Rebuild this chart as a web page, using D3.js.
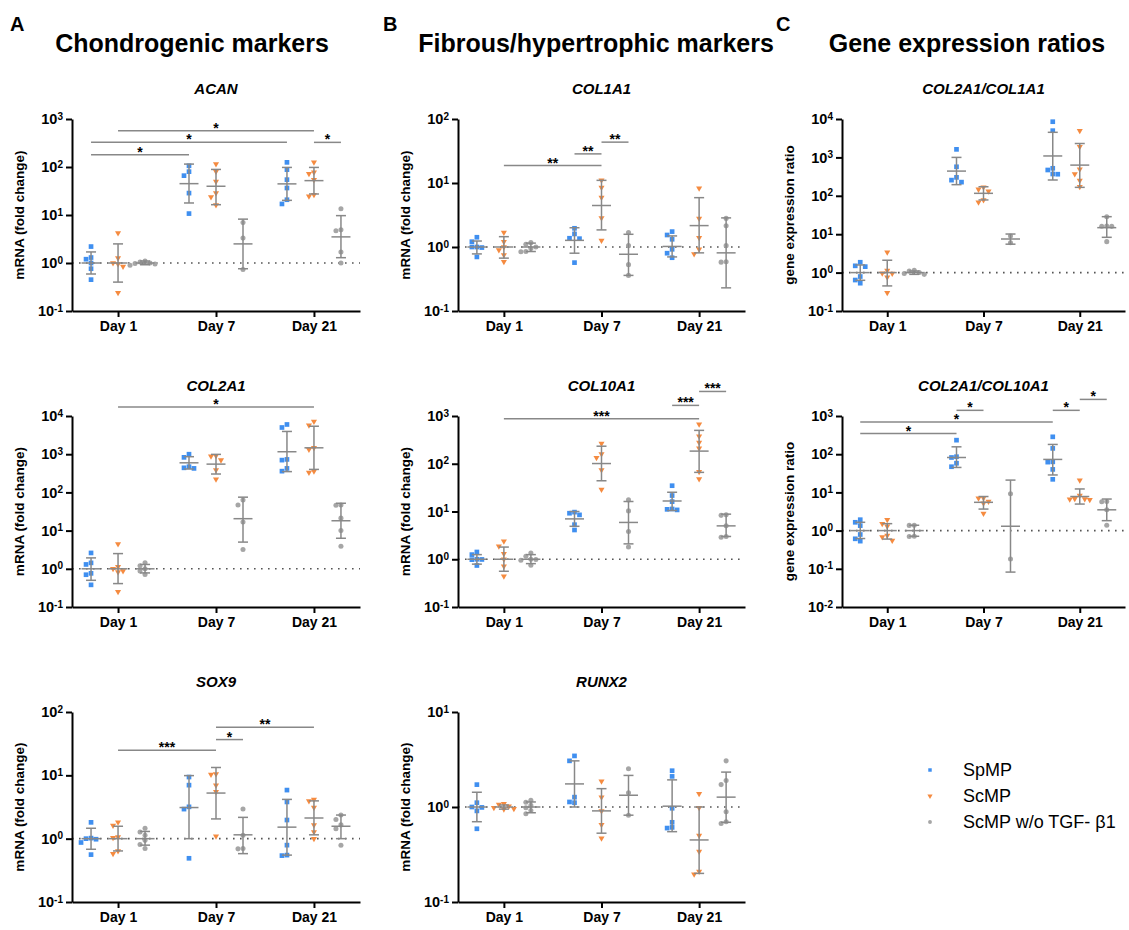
<!DOCTYPE html>
<meta charset="utf-8">
<style>
    body { margin: 0; background: #fff; }
    svg { font-family: "Liberation Sans", Arial, sans-serif; }
    .axis path, .axis line { stroke: #000; stroke-width: 2; }
    .axis text { font-weight: bold; fill: #000; }
</style>
<body>
<div id="main"></div>
<script src="https://cdn.jsdelivr.net/npm/d3@7/dist/d3.min.js"></script>
<script>
var days = ["Day 1", "Day 7", "Day 21"];
var groups = ["SpMP", "ScMP", "ScMP w/o TGF- β1"];
var colors = ["#3f8ff0", "#f58b40", "#a6a6a6"];

// points: [SpMP, ScMP, w/o TGF] -> [day1, day7, day21]
// stats: [mean, low, high] per group per day
// sig: [group1, day1, group2, day2, level, label]
var acanPts = [
    [[2.2,1.3,1.2,1.0,0.76,0.45],[106,80,66,28.6,10.7],[125,88,54.5,36.5,20.8,17]],
    [[4.2,1.27,1.0,0.95,0.85,0.24],[115,81,50,28.6,23.7,16.2],[125,78,72,54,26.5,24.5]],
    [[1.1,1.05,1.0,0.98,0.95,0.9],[7.0,3.3,0.73],[13.5,4.9,4.7,1.7,1.0]]
];
var acanStats = [
    [[1,0.59,1.7],[45,17.8,115],[44.5,20.2,98]],
    [[1,0.4,2.5],[39.7,16.4,89],[52,27.4,98]],
    [[1,0.92,1.1],[2.5,0.76,8.2],[3.5,1.29,9.7]]
];
var acanSig = [[0,0,0,1,181,"*"],[0,0,0,2,326,"*"],[1,0,1,2,571,"*"],[1,2,2,2,326,"*"]];

var col2Pts = [
    [[2.6,1.43,1.3,0.76,0.7,0.38],[1000,826,470,440,425],[6000,5000,730,700,425,360]],
    [[4.47,1.13,1.0,0.87,0.82,0.25],[915,890,700,386,220],[7200,5700,1470,1320,360,330]],
    [[1.43,1.2,1.0,0.87,0.71],[63,47,16.7,3.2],[47,46,21.2,10,3.9]]
];
var col2Stats = [
    [[1,0.5,1.93],[595,410,860],[1160,350,3940]],
    [[1,0.41,2.5],[550,303,990],[1470,400,5400]],
    [[1,0.78,1.3],[20.5,5.0,75],[18.1,6.3,52]]
];
var col2Sig = [[1,0,1,2,17100,"*"]];

var sox9Pts = [
    [[1.81,1.02,1.0,0.98,0.87,0.56],[9.4,7.0,3.18,2.93,0.49],[5.85,3.8,1.97,0.79,0.55,0.54]],
    [[1.81,1.61,1.06,1.03,0.64,0.58],[10.5,10.3,7.0,5.5,1.09],[4.17,3.95,3.1,1.65,1.27,1.0]],
    [[1.46,1.27,1.13,0.94,0.81,0.70],[2.93,1.13,0.70,0.69],[2.36,2.0,1.65,1.43,0.79]]
];
var sox9Stats = [
    [[1,0.68,1.46],[3.1,1.0,9.9],[1.52,0.55,4.17]],
    [[1,0.64,1.57],[5.25,2.05,13.3],[2.12,1.15,3.95]],
    [[1,0.79,1.3],[1.15,0.58,2.17],[1.57,1.0,2.36]]
];
var sox9Sig = [[1,0,1,1,25,"***"],[1,1,2,1,36.7,"*"],[1,1,1,2,57.7,"**"]];

var col1Pts = [
    [[1.42,1.21,1.0,1.0,0.98,0.70],[1.96,1.6,1.37,1.35,0.57],[1.74,1.54,1.32,0.92,0.8,0.68]],
    [[1.68,1.21,1.0,0.9,0.75,0.59],[11,8.5,5.95,2.85,1.26],[8.3,2.8,1.4,0.92,0.78]],
    [[1.17,1.1,1.0,0.95,0.85,0.84],[1.68,1.05,0.53,0.36],[2.8,2.14,1.05,0.59,0.58]]
];
var col1Stats = [
    [[1,0.78,1.24],[1.27,0.8,2.0],[1.02,0.7,1.49]],
    [[1,0.67,1.45],[4.45,1.85,11],[2.16,0.81,5.9]],
    [[1,0.85,1.15],[0.77,0.36,1.58],[0.81,0.23,2.85]]
];
var col1Sig = [[1,0,1,1,18.7,"**"],[0,1,1,1,28.5,"**"],[1,1,2,1,43.5,"**"]];

var col10Pts = [
    [[1.42,1.25,1.0,0.99,0.98,0.74],[9.7,9.2,8.5,5.3,4.1],[34.7,21.6,16.1,11.3,11.1,10.8]],
    [[2.37,1.87,1.31,1.0,0.71,0.44],[265,160,133,74,29],[670,375,278,210,68,48]],
    [[1.35,1.15,1.0,0.99,0.95,0.75],[17.5,10.3,3.8,1.8],[8.5,8.3,5.0,3.0,2.9]]
];
var col10Stats = [
    [[1,0.79,1.25],[7.0,4.9,10],[16.6,10.5,25.3]],
    [[1,0.56,1.8],[101,44,233],[184,66,500]],
    [[1,0.81,1.25],[5.9,2.1,16.2],[5.0,3.0,8.8]]
];
var col10Sig = [[1,0,1,2,880,"***"],[0,2,1,2,1668,"***"],[1,2,2,2,3265,"***"]];

var runx2Pts = [
    [[1.72,1.11,1.0,0.99,0.91,0.59],[3.45,3.06,1.27,1.13,1.11],[2.41,2.1,0.97,0.69,0.61,0.6]],
    [[1.08,1.06,1.02,0.98,0.96,0.95],[1.87,1.27,0.91,0.65,0.47],[1.38,0.98,0.5,0.34,0.21,0.196]],
    [[1.18,1.12,1.04,0.98,0.92,0.85],[2.53,1.41,0.82],[3.06,1.9,1.72,0.89,0.70,0.67]]
];
var runx2Stats = [
    [[1,0.7,1.43],[1.75,1.0,3.06],[1.02,0.55,1.93]],
    [[1,0.95,1.05],[0.91,0.53,1.56],[0.45,0.2,1.0]],
    [[1,0.87,1.13],[1.33,0.82,2.15],[1.27,0.69,2.33]]
];

var ratio1Pts = [
    [[1.86,1.5,1.43,0.79,0.64,0.53],[1620,570,302,256,227],[8500,4970,520,470,370,365]],
    [[3.4,1.13,0.96,0.95,0.76,0.30],[166,147,131,78,68],[4970,1900,490,370,250,172]],
    [[1.15,1.1,1.0,0.95,0.9],[9.0,6.0],[28.6,16.4,16.2,16,6.4]]
];
var ratio1Stats = [
    [[1,0.63,1.58],[440,195,1000],[1090,258,4500]],
    [[1,0.45,2.1],[116,78,172],[630,166,2300]],
    [[1,0.9,1.1],[7.5,5.5,10.1],[14.8,8.3,28.6]]
];

var ratio2Pts = [
    [[1.93,1.65,1.35,0.79,0.61,0.53],[233,86,82,58,47],[285,142,63,62,40,22]],
    [[1.93,1.52,1.3,0.74,0.68,0.55],[7.1,7.0,5.8,5.2,2.8],[20.8,8.3,6.8,6.7,6.6,6.4]],
    [[1.38,1.37,0.71,0.70],[9.2,0.18],[5.8,5.7,3.5,1.38]]
];
var ratio2Stats = [
    [[1,0.62,1.65],[82,45,156],[73,28.6,180]],
    [[1,0.6,1.52],[5.5,3.66,7.8],[7.8,4.95,12.3]],
    [[1,0.71,1.38],[1.3,0.082,21],[3.5,1.82,6.7]]
];
var ratio2Sig = [[0,0,0,1,348,"*"],[0,0,0,2,700,"*"],[0,1,1,1,1407,"*"],[0,2,1,2,1407,"*"],[1,2,2,2,2720,"*"]];

var panels = [
    {title: "ACAN", pts: acanPts, stats: acanStats, sig: acanSig, col: 0, row: 0, exp: [-1, 3]},
    {title: "COL2A1", pts: col2Pts, stats: col2Stats, sig: col2Sig, col: 0, row: 1, exp: [-1, 4]},
    {title: "SOX9", pts: sox9Pts, stats: sox9Stats, sig: sox9Sig, col: 0, row: 2, exp: [-1, 2]},
    {title: "COL1A1", pts: col1Pts, stats: col1Stats, sig: col1Sig, col: 1, row: 0, exp: [-1, 2]},
    {title: "COL10A1", pts: col10Pts, stats: col10Stats, sig: col10Sig, col: 1, row: 1, exp: [-1, 3]},
    {title: "RUNX2", pts: runx2Pts, stats: runx2Stats, sig: [], col: 1, row: 2, exp: [-1, 1]},
    {title: "COL2A1/COL1A1", pts: ratio1Pts, stats: ratio1Stats, sig: [], col: 2, row: 0, exp: [-1, 4]},
    {title: "COL2A1/COL10A1", pts: ratio2Pts, stats: ratio2Stats, sig: ratio2Sig, col: 2, row: 1, exp: [-2, 3]}
];

var colX = [[72, 360], [458, 745], [842, 1125]];
var rowY = [[119, 311], [416, 607], [712, 902]];
var headers = [
    {letter: "A", lx: 10, text: "Chondrogenic markers", tx: 192},
    {letter: "B", lx: 383, text: "Fibrous/hypertrophic markers", tx: 596},
    {letter: "C", lx: 776, text: "Gene expression ratios", tx: 967}
];

var svg = d3.select("#main").append("svg")
    .attr("width", 1129)
    .attr("height", 930);

headers.forEach(function(h) {
    svg.append("text").attr("x", h.lx).attr("y", 31)
        .style("font-size", "20px").style("font-weight", "bold").text(h.letter);
    svg.append("text").attr("x", h.tx).attr("y", 52).attr("text-anchor", "middle")
        .style("font-size", "25px").style("font-weight", "bold").text(h.text);
});

var symbols = [
    d3.symbol().type(d3.symbolSquare).size(22),
    d3.symbol().type(d3.symbolTriangle).size(16),
    d3.symbol().type(d3.symbolCircle).size(20)
];

function marker(sel, g) {
    return sel.append("path")
        .attr("d", symbols[g]())
        .attr("fill", colors[g]);
}

function swarm(vals, y, s) {
    var placed = [];
    vals.slice().sort(function(a, b) { return b - a; }).forEach(function(v) {
        var py = y(v);
        for (var k = 0; k < 20; k++) {
            var dx = (k % 2 ? -1 : 1) * Math.ceil(k / 2) * s;
            var hit = placed.some(function(p) {
                return Math.abs(p.dx - dx) < s && Math.abs(p.y - py) < s;
            });
            if (!hit) { placed.push({dx: dx, y: py}); break; }
        }
    });
    return placed;
}

function supTick(sel) {
    sel.selectAll(".tick text").each(function(d) {
        var t = d3.select(this);
        var e = Math.round(Math.log10(d));
        t.text(null);
        t.append("tspan").text("10");
        t.append("tspan").attr("dy", "-0.45em").style("font-size", "10px").text(e);
    });
}

panels.forEach(function(p) {
    var left = colX[p.col][0], right = colX[p.col][1];
    var top = rowY[p.row][0], bottom = rowY[p.row][1];

    var x = d3.scalePoint().domain(days).range([left, right]).padding(0.47);
    var off = d3.scalePoint().domain([0, 1, 2]).range([-27, 27]);
    var y = d3.scaleLog().domain([Math.pow(10, p.exp[0]), Math.pow(10, p.exp[1])]).range([bottom, top]);
    var ticks = d3.range(p.exp[0], p.exp[1] + 1).map(function(e) { return Math.pow(10, e); });

    var g = svg.append("g");

    // reference line at 1
    g.append("line")
        .attr("x1", left).attr("x2", right)
        .attr("y1", y(1)).attr("y2", y(1))
        .attr("stroke", "#555").attr("stroke-width", 1.6)
        .attr("stroke-dasharray", "1.6,5.4");

    p.pts.forEach(function(series, gi) {
        series.forEach(function(vals, di) {
            var cx = x(days[di]) + off(gi);
            swarm(vals, y, 5).forEach(function(pt) {
                marker(g, gi).attr("transform", "translate(" + (cx + pt.dx) + "," + pt.y + ")" + (gi === 1 ? " rotate(180)" : ""));
            });
            var st = p.stats[gi][di];
            var eb = g.append("g").attr("stroke", "#888").attr("stroke-width", 1.5);
            eb.append("line").attr("x1", cx).attr("x2", cx).attr("y1", y(st[1])).attr("y2", y(st[2]));
            eb.append("line").attr("x1", cx - 5).attr("x2", cx + 5).attr("y1", y(st[1])).attr("y2", y(st[1]));
            eb.append("line").attr("x1", cx - 5).attr("x2", cx + 5).attr("y1", y(st[2])).attr("y2", y(st[2]));
            eb.append("line").attr("x1", cx - 9.5).attr("x2", cx + 9.5).attr("y1", y(st[0])).attr("y2", y(st[0]));
        });
    });

    // significance bars
    p.sig.forEach(function(s) {
        var x1 = x(days[s[1]]) + off(s[0]);
        var x2 = x(days[s[3]]) + off(s[2]);
        var ly = y(s[4]);
        g.append("line").attr("x1", x1).attr("x2", x2).attr("y1", ly).attr("y2", ly)
            .attr("stroke", "#888").attr("stroke-width", 1.5);
        g.append("text").attr("x", (x1 + x2) / 2).attr("y", ly + 2)
            .attr("text-anchor", "middle")
            .style("font-size", "14px").style("font-weight", "bold")
            .text(s[5]);
    });

    // axes
    var yAxis = d3.axisLeft(y).tickValues(ticks).tickSize(6).tickSizeOuter(0).tickPadding(3);
    g.append("g").attr("class", "axis")
        .attr("transform", "translate(" + left + ",0)")
        .call(yAxis)
        .call(supTick)
        .selectAll("text").style("font-size", "14.5px");

    var xAxis = d3.axisBottom(x).tickSize(6).tickSizeOuter(0).tickPadding(4);
    g.append("g").attr("class", "axis")
        .attr("transform", "translate(0," + bottom + ")")
        .call(xAxis)
        .selectAll("text").style("font-size", "14px");

    g.append("text")
        .attr("transform", "translate(" + (left - 48) + "," + ((top + bottom) / 2) + ") rotate(-90)")
        .attr("text-anchor", "middle")
        .style("font-size", "13.5px").style("font-weight", "bold")
        .text(p.col === 2 ? "gene expression ratio" : "mRNA (fold change)");

    g.append("text")
        .attr("x", x("Day 7")).attr("y", top - 25)
        .attr("text-anchor", "middle")
        .style("font-size", "15px").style("font-weight", "bold").style("font-style", "italic")
        .text(p.title);
});

// legend
var legend = svg.append("g").attr("transform", "translate(930,770)");
groups.forEach(function(name, i) {
    var row = legend.append("g").attr("transform", "translate(0," + (i * 26) + ")");
    row.append("path")
        .attr("d", d3.symbol().type([d3.symbolSquare, d3.symbolTriangle, d3.symbolCircle][i]).size(12)())
        .attr("fill", colors[i])
        .attr("transform", i === 1 ? "rotate(180)" : null);
    row.append("text").attr("x", 33).attr("y", 6)
        .style("font-size", "18px").text(name);
});
</script>
